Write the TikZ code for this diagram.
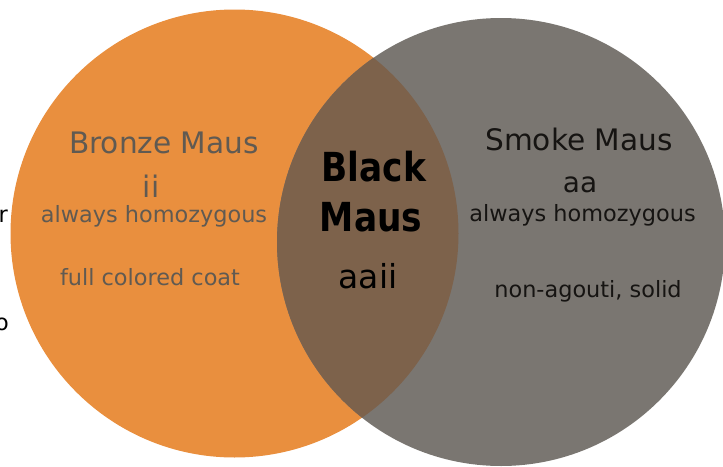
\documentclass[tikz,border=0pt]{standalone}
\usepackage{fontspec}
\setmainfont{DejaVu Sans}
\newfontfamily\condbold[FakeStretch=0.86]{DejaVu Sans Bold}
\definecolor{bronzefill}{RGB}{233,143,62}
\definecolor{smokefill}{RGB}{122,118,113}
\definecolor{blackfill}{RGB}{125,98,75}
\definecolor{lefttext}{RGB}{96,90,82}
\definecolor{righttext}{RGB}{22,20,18}
\begin{document}
\begin{tikzpicture}[x=1pt,y=-1pt,
  lbl/.style={inner sep=0pt, anchor=base},
  bigtxt/.style={font=\fontsize{29.6}{31}\selectfont},
  smalltxt/.style={font=\fontsize{22.4}{24}\selectfont},
  boldtxt/.style={font=\condbold\fontsize{40}{42}\selectfont}]
\useasboundingbox (0,0) rectangle (723,466);
\coordinate (cbronze) at (234.5,233.5);
\coordinate (csmoke) at (501,242);
\fill[bronzefill] (cbronze) circle[radius=224];
\fill[smokefill] (csmoke) circle[radius=224];
\begin{scope}
  \clip (cbronze) circle[radius=224];
  \fill[blackfill] (csmoke) circle[radius=224];
\end{scope}
% left circle
\node[lbl, bigtxt, text=lefttext] (bronze) at (164,153) {Bronze Maus};
\node[lbl, bigtxt, text=lefttext] (bronzegeno) at (151,197) {ii};
\node[lbl, smalltxt, text=lefttext] (bronzehom) at (154,222) {always homozygous};
\node[lbl, smalltxt, text=lefttext] (bronzecoat) at (150,285) {full colored coat};
% right circle
\node[lbl, bigtxt, text=righttext] (smoke) at (579,150) {Smoke Maus};
\node[lbl, font=\fontsize{28}{30}\selectfont, text=righttext] (smokegeno) at (580,192) {aa};
\node[lbl, smalltxt, text=righttext] (smokehom) at (582.5,221) {always homozygous};
\node[lbl, smalltxt, text=righttext] (smokecoat) at (588,297) {non-agouti, solid};
% overlap
\node[lbl, boldtxt, text=black] (blackone) at (374,181) {Black};
\node[lbl, boldtxt, text=black] (blacktwo) at (371,231) {Maus};
\node[lbl, font=\fontsize{33}{35}\selectfont, text=black] (blackgeno) at (368,288) {aaii};
% stray letters at left edge
\node[inner sep=0pt, anchor=base east, smalltxt, text=black] (strayr) at (8,222) {r};
\node[inner sep=0pt, anchor=base east, smalltxt, text=black] (strayo) at (9,330) {o};
\end{tikzpicture}
\end{document}
